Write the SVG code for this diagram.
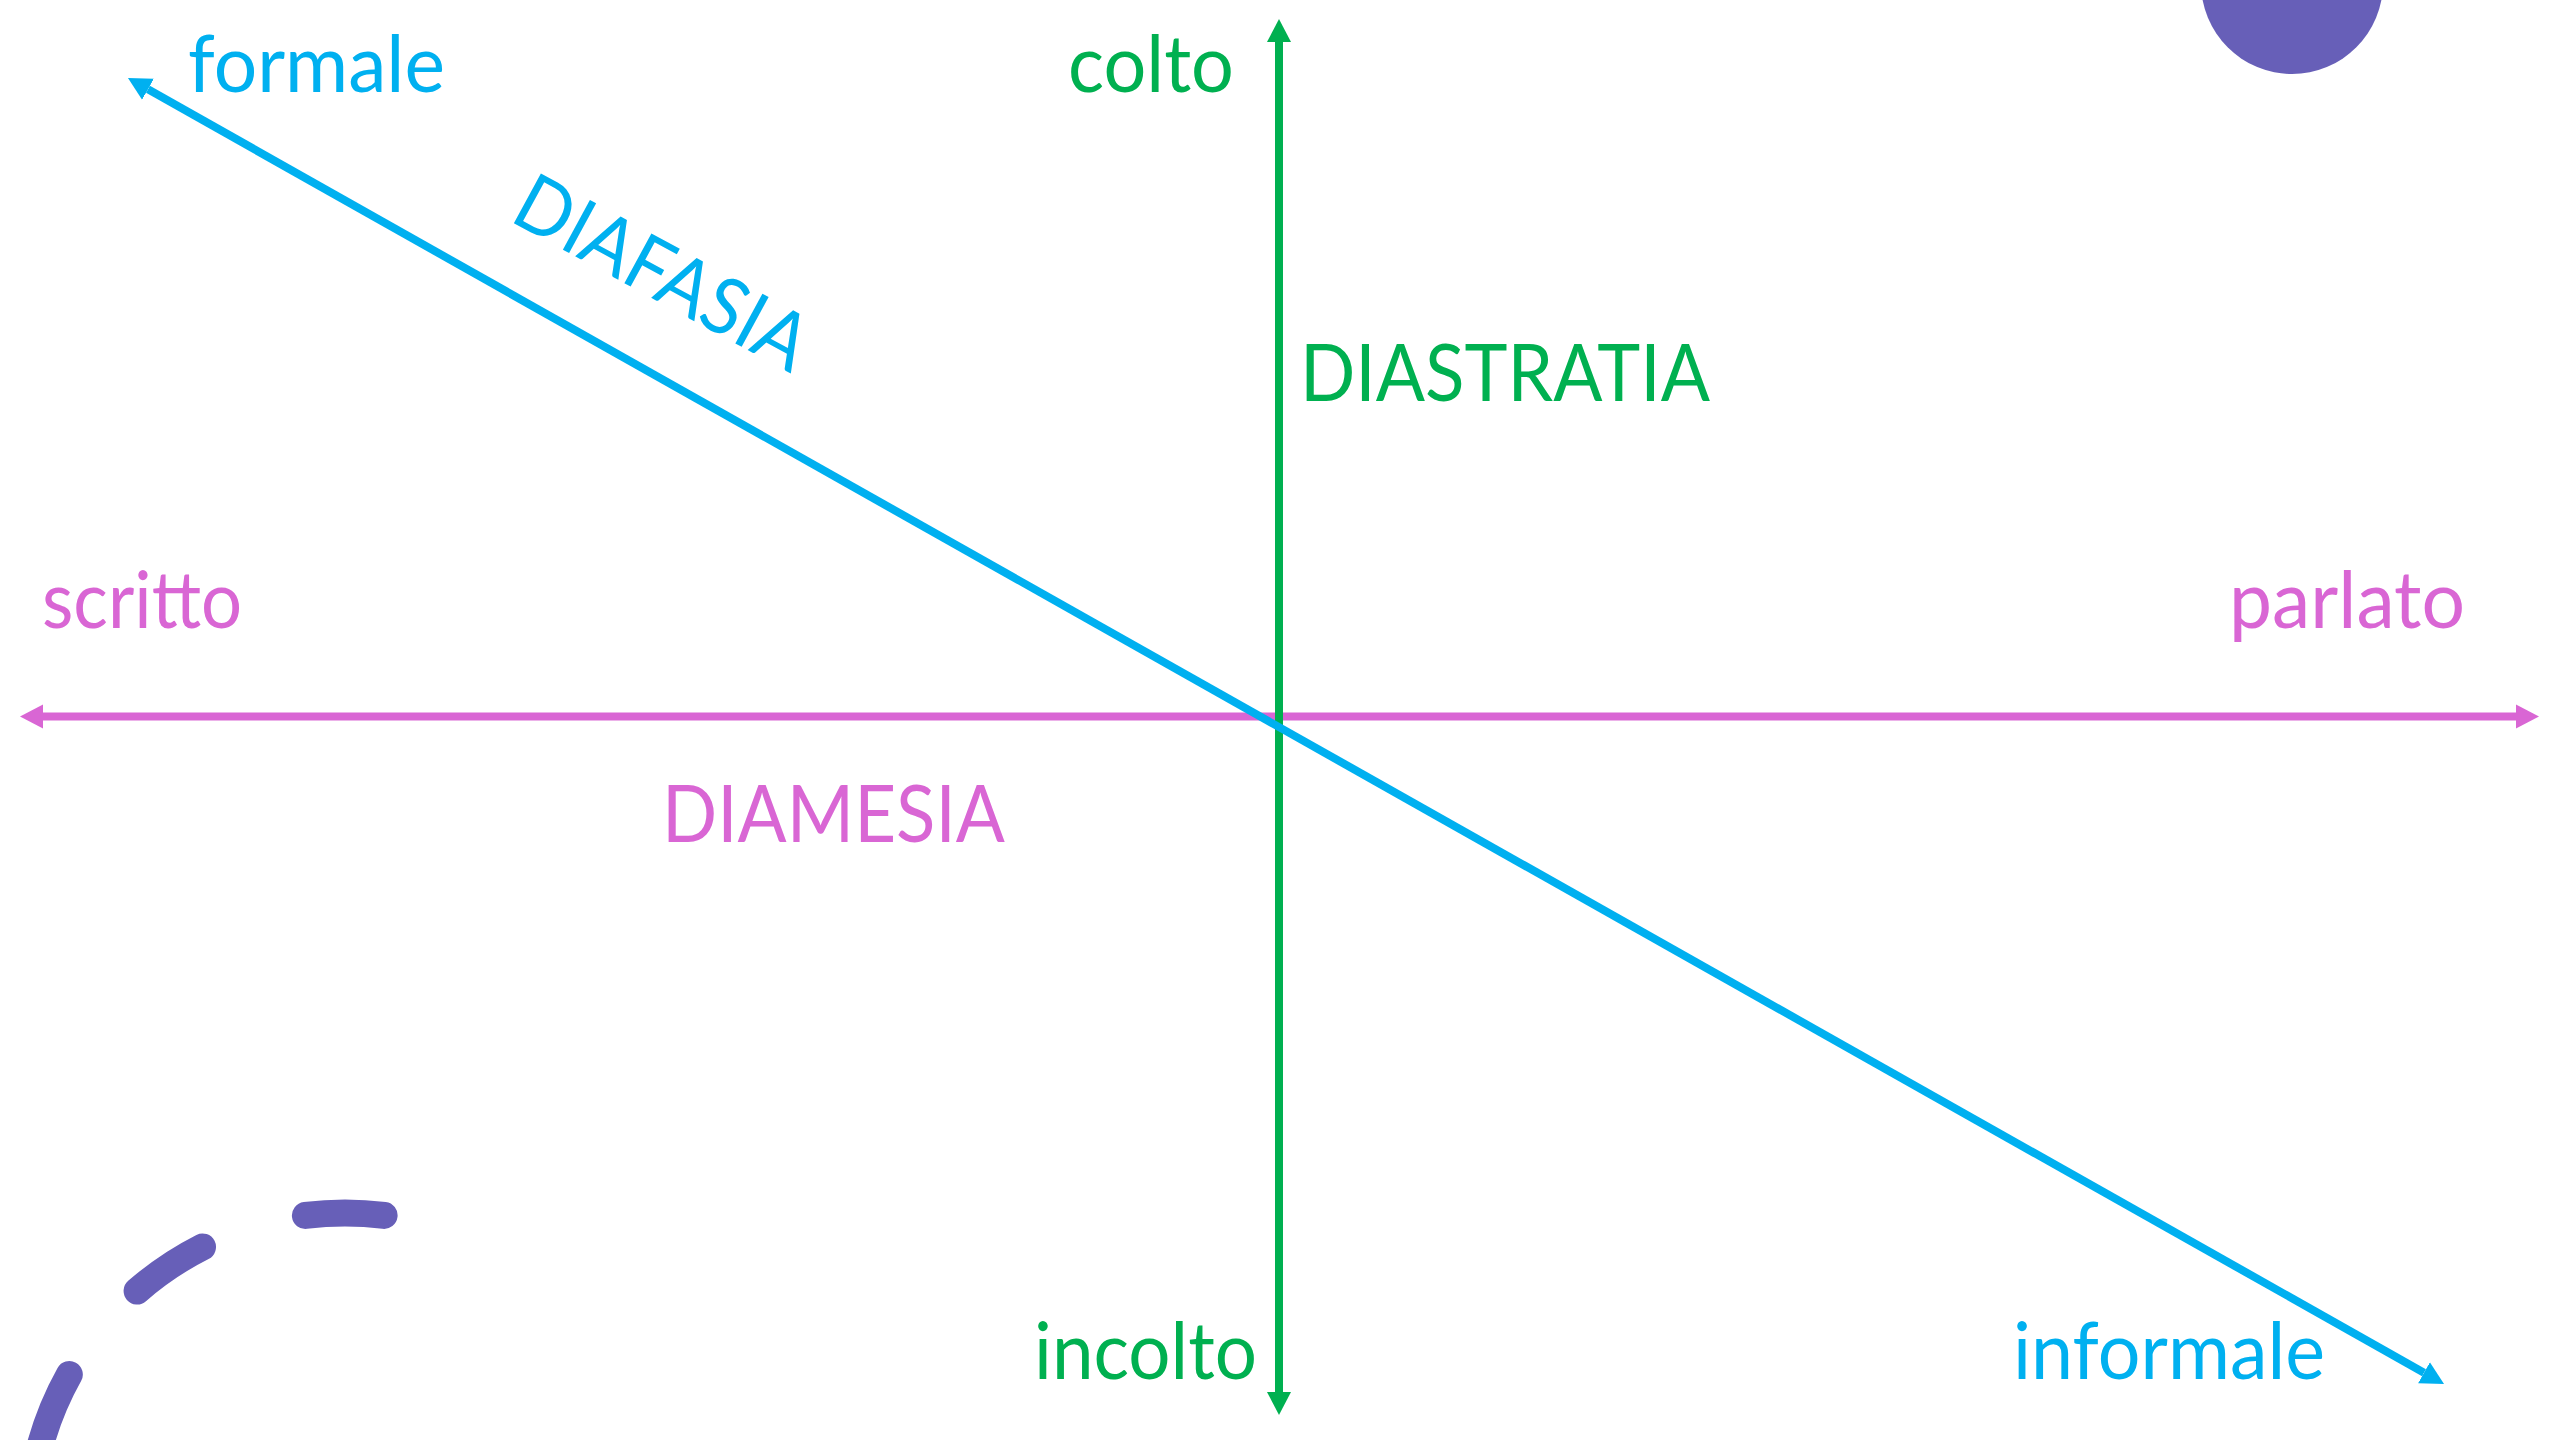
<svg xmlns="http://www.w3.org/2000/svg" width="2560" height="1440" viewBox="0 0 2560 1440">
<style>
text{font-family:"Lato","Noto Sans","Liberation Sans",sans-serif;font-size:79px;font-weight:400}
.b{fill:#00B0F0}.g{fill:#00B050}.p{fill:#D966D4}
</style>
<defs>
<marker id="ab" markerUnits="userSpaceOnUse" markerWidth="24" markerHeight="26" refX="0" refY="12" orient="auto-start-reverse" viewBox="0 0 24 24"><path d="M0,0L23,12L0,24z" fill="#00B0F0"/></marker>
<marker id="ag" markerUnits="userSpaceOnUse" markerWidth="24" markerHeight="26" refX="0" refY="12" orient="auto-start-reverse" viewBox="0 0 24 24"><path d="M0,0L23,12L0,24z" fill="#00B050"/></marker>
<marker id="ap" markerUnits="userSpaceOnUse" markerWidth="24" markerHeight="26" refX="0" refY="12" orient="auto-start-reverse" viewBox="0 0 24 24"><path d="M0,0L23,12L0,24z" fill="#D966D4"/></marker>
</defs>
<rect width="2560" height="1440" fill="#fff"/>
<g id="decor">
<circle cx="2292" cy="-17" r="91" fill="#675FB8"/>
<path d="M384.1,1215.4 A316,316 0 0 0 29,1529" fill="none" stroke="#675FB8" stroke-width="27" stroke-linecap="round" stroke-dasharray="79 108"/>
</g>
<g id="connectors">
<line x1="43" y1="716.5" x2="2516" y2="716.5" stroke="#D966D4" stroke-width="8" marker-start="url(#ap)" marker-end="url(#ap)"/>
<line x1="1279" y1="42" x2="1279" y2="1392" stroke="#00B050" stroke-width="8" marker-start="url(#ag)" marker-end="url(#ag)"/>
<line x1="148" y1="89.3" x2="2424" y2="1372.7" stroke="#00B0F0" stroke-width="8" marker-start="url(#ab)" marker-end="url(#ab)"/>
</g>
<g id="formale"><text class="b" x="188" y="92" textLength="257" lengthAdjust="spacingAndGlyphs">formale</text></g>
<g id="informale"><text class="b" x="2013" y="1379" textLength="312" lengthAdjust="spacingAndGlyphs">informale</text></g>
<g id="diafasia"><text class="b" x="508" y="220" transform="rotate(28.5 508 220)" textLength="322" lengthAdjust="spacingAndGlyphs">DIAFASIA</text></g>
<g id="colto"><text class="g" x="1068" y="92" textLength="166" lengthAdjust="spacingAndGlyphs">colto</text></g>
<g id="incolto"><text class="g" x="1034" y="1379" textLength="223" lengthAdjust="spacingAndGlyphs">incolto</text></g>
<g id="diastratia"><text class="g" x="1300" y="401" textLength="410" lengthAdjust="spacingAndGlyphs">DIASTRATIA</text></g>
<g id="scritto"><text class="p" x="42" y="628" textLength="200" lengthAdjust="spacingAndGlyphs">scritto</text></g>
<g id="parlato"><text class="p" x="2229" y="628" textLength="236" lengthAdjust="spacingAndGlyphs">parlato</text></g>
<g id="diamesia"><text class="p" x="662" y="842" textLength="343" lengthAdjust="spacingAndGlyphs">DIAMESIA</text></g>
</svg>
